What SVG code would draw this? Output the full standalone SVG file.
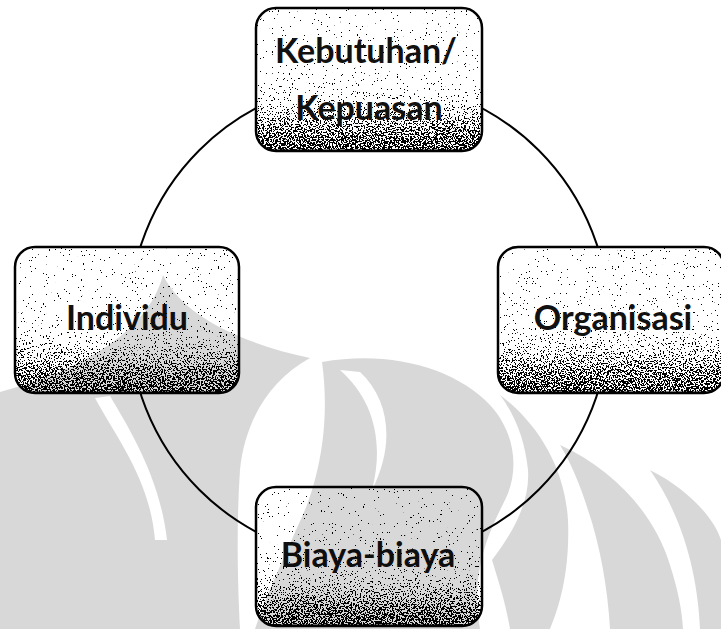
<svg xmlns="http://www.w3.org/2000/svg" width="721" height="629" viewBox="0 0 721 629">
  <style>
    .box { fill: url(#shade); filter: url(#stip); }
    .edge { fill: none; stroke: #000; stroke-width: 2.5; }
    .conn { fill: none; stroke: #000; stroke-width: 2; }
    .lbl { font-family: "Lato", "Liberation Sans", sans-serif; font-weight: 700; font-size: 34px; fill: #111; text-anchor: middle; }
  </style>
  <defs>
    <linearGradient id="shade" x1="0" y1="0" x2="0" y2="1">
      <stop offset="0" stop-color="#fff"/>
      <stop offset="0.45" stop-color="#fff"/>
      <stop offset="0.65" stop-color="#c8c8c8"/>
      <stop offset="0.85" stop-color="#3a3a3a"/>
      <stop offset="1" stop-color="#000"/>
    </linearGradient>
    <filter id="stip" x="0" y="0" width="1" height="1" color-interpolation-filters="sRGB">
      <feTurbulence type="fractalNoise" baseFrequency="0.65" numOctaves="2" seed="7" result="t"/>
      <feColorMatrix in="t" type="matrix" values="3.6 0 0 0 -1.65  3.6 0 0 0 -1.65  3.6 0 0 0 -1.65  0 0 0 0 1" result="n"/>
      <feComposite in="SourceGraphic" in2="n" operator="arithmetic" k1="0" k2="-1" k3="1" k4="1" result="v"/>
      <feComponentTransfer in="v">
        <feFuncR type="linear" slope="-40" intercept="40"/>
        <feFuncG type="linear" slope="-40" intercept="40"/>
        <feFuncB type="linear" slope="-40" intercept="40"/>
      </feComponentTransfer>
    </filter>
    <clipPath id="cTop"><rect x="256" y="8" width="226" height="143" rx="20"/></clipPath>
    <clipPath id="cLeft"><rect x="15" y="247" width="224" height="146" rx="20"/></clipPath>
    <clipPath id="cRight"><rect x="498" y="247" width="226" height="146" rx="20"/></clipPath>
    <clipPath id="cBottom"><rect x="256" y="487" width="226" height="139" rx="20"/></clipPath>
  </defs>

  <rect width="721" height="629" fill="#fff"/>

  <g id="connectors">
    <path class="conn" d="M369,80 A240,240 0 0 0 129,320"/>
    <path class="conn" d="M129,320 A240,240 0 0 0 369,560"/>
    <path class="conn" d="M369,560 A240,240 0 0 0 609,320"/>
    <path class="conn" d="M609,320 A240,240 0 0 0 369,80"/>
  </g>

  <g id="node-kebutuhan">
    <rect class="box" x="256" y="8" width="226" height="143" clip-path="url(#cTop)"/>
    <rect class="edge" x="256" y="8" width="226" height="143" rx="20"/>
    <text class="lbl" x="366" y="63">Kebutuhan/</text>
    <text class="lbl" x="369" y="120">Kepuasan</text>
  </g>

  <g id="node-individu">
    <rect class="box" x="15" y="247" width="224" height="146" clip-path="url(#cLeft)"/>
    <rect class="edge" x="15" y="247" width="224" height="146" rx="20"/>
    <text class="lbl" x="127" y="330">Individu</text>
  </g>

  <g id="node-organisasi">
    <rect class="box" x="498" y="247" width="226" height="146" clip-path="url(#cRight)"/>
    <rect class="edge" x="498" y="247" width="226" height="146" rx="20"/>
    <text class="lbl" x="613" y="330">Organisasi</text>
  </g>

  <g id="node-biaya">
    <rect class="box" x="256" y="487" width="226" height="139" clip-path="url(#cBottom)"/>
    <rect class="edge" x="256" y="487" width="226" height="139" rx="20"/>
    <text class="lbl" x="368" y="567">Biaya-biaya</text>
  </g>

  <g id="watermark" opacity="0.15" fill="#000">
    <path fill-rule="evenodd" d="M163,275 C185,320 250,345 310,358 C270,380 245,420 240,470 C236,530 238,590 240,629 L0,629 L0,392 C75,372 147,335 163,275 Z M95,398 C118,440 150,480 155,540 L167,540 C160,478 130,430 110,396 Z"/>
    <path fill-rule="evenodd" d="M322,362 C390,350 455,368 490,405 C515,432 520,470 505,500 C490,530 470,570 480,629 L255,629 C268,590 290,545 307,505 C320,470 330,420 322,362 Z M340,370 C372,398 385,440 372,490 C395,445 390,400 360,372 Z"/>
    <path d="M500,395 C540,425 565,470 568,520 C570,570 560,605 550,629 L510,629 C505,600 498,580 492,560 C515,530 530,500 528,470 C525,440 515,415 500,395 Z"/>
    <path d="M560,445 C615,470 655,515 670,565 C678,590 682,610 683,629 L610,629 C608,590 600,545 588,510 C580,485 572,465 560,445 Z"/>
    <path d="M650,470 C690,490 715,520 721,540 L721,629 L700,629 C698,580 685,520 650,470 Z"/>
  </g>
</svg>
